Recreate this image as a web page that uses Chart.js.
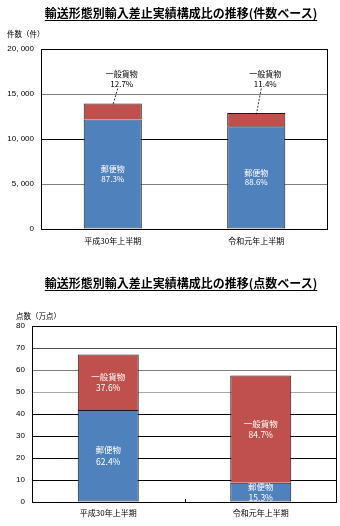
<!DOCTYPE html>
<html lang="ja">
<head>
<meta charset="utf-8">
<script src="https://cdn.jsdelivr.net/npm/chart.js@4/dist/chart.umd.min.js"></script>
<style>
  html, body { margin: 0; padding: 0; background: #fff; width: 340px; height: 526px; overflow: hidden; }
  body { position: relative; }
  canvas { position: absolute; left: 0; }
  .ttl {
    position: absolute; left: 0; width: 362px; text-align: center;
    font: bold 12px "Noto Sans CJK JP", sans-serif; line-height: 14px; color: #000;
    text-decoration: underline; text-underline-offset: 2px; white-space: nowrap; z-index: 2;
  }
</style>
</head>
<body>
<canvas id="cases" width="340" height="260" style="top:0"></canvas>
<canvas id="items" width="340" height="266" style="top:260px"></canvas>
<div class="ttl" style="top:6px">輸送形態別輸入差止実績構成比の推移(件数ベース)</div>
<div class="ttl" style="top:276px">輸送形態別輸入差止実績構成比の推移(点数ベース)</div>
<script>
// Periods and series
const periods = ['平成30年上半期', '令和元年上半期'];
const seriesNames = ['郵便物', '一般貨物'];

// Import seizures by number of cases (件)
const casesPostal = [12180, 11430];
const casesCargo = [1770, 1470];
const caseTicks = [0, 5000, 10000, 15000, 20000];

// Import seizures by number of items (万点)
const itemsPostal = [41.8, 8.8];
const itemsCargo = [25.2, 48.7];
const itemTicks = [0, 10, 20, 30, 40, 50, 60, 70, 80];

const BLUE = '#4F81BD';
const RED = '#C0504D';
const CJK = '"Noto Sans CJK JP", sans-serif';
const NUM = '"Liberation Sans", Arial, sans-serif';

// Horizontal rule colours per tick value
const caseGridColor = { 5000: '#808080', 15000: '#808080' };
const itemGridColor = { 50: '#a8a8a8', 60: '#808080', 70: '#505050' };

const fmtThousands = v => v.toLocaleString('en-US').replace(/,/g, ', ');

// Frame around the plot area plus an optional category separator tick
const frame = {
  id: 'frame',
  afterDatasetsDraw(chart, args, opts) {
    const { ctx, chartArea: a } = chart;
    ctx.save();
    ctx.strokeStyle = '#000';
    ctx.lineWidth = 1;
    ctx.strokeRect(Math.round(a.left) + 0.5, Math.round(a.top) + 0.5,
                   Math.round(a.right - a.left) - 1, Math.round(a.bottom - a.top));
    if (opts.separator) {
      const xs = chart.scales.x;
      const sx = Math.round((xs.getPixelForValue(0) + xs.getPixelForValue(1)) / 2) + 0.5;
      ctx.beginPath();
      ctx.moveTo(sx, a.bottom);
      ctx.lineTo(sx, a.bottom - 3);
      ctx.stroke();
    }
    ctx.restore();
  }
};

// Axis caption above the value axis
const axisCaption = {
  id: 'axisCaption',
  afterDraw(chart, args, opts) {
    const ctx = chart.ctx;
    ctx.save();
    ctx.font = opts.font;
    ctx.fillStyle = '#000';
    ctx.textAlign = 'left';
    ctx.textBaseline = 'middle';
    ctx.fillText(opts.text, opts.x, opts.y);
    ctx.restore();
  }
};

// Series name and share of total on each bar segment
const segmentLabels = {
  id: 'segmentLabels',
  afterDatasetsDraw(chart, args, opts) {
    const ctx = chart.ctx;
    const ds = chart.data.datasets;
    const totals = chart.data.labels.map((_, i) => ds.reduce((s, d) => s + d.data[i], 0));
    ds.forEach((set, di) => {
      const meta = chart.getDatasetMeta(di);
      meta.data.forEach((bar, i) => {
        const share = (set.data[i] / totals[i] * 100).toFixed(1) + '%';
        ctx.save();
        ctx.font = opts.font;
        ctx.textAlign = 'center';
        ctx.textBaseline = 'middle';
        if (opts.callout && opts.callout[di]) {
          const tx = bar.x + opts.calloutDx;
          const ty = chart.chartArea.top + opts.calloutTop;
          ctx.fillStyle = '#000';
          ctx.fillText(set.label, tx, ty);
          ctx.fillText(share, tx, ty + opts.gap);
          ctx.strokeStyle = '#000';
          ctx.lineWidth = 0.8;
          ctx.setLineDash([2, 1.5]);
          ctx.beginPath();
          ctx.moveTo(bar.x + 5, ty + opts.gap + 5);
          ctx.lineTo(bar.x, bar.y + 2);
          ctx.stroke();
        } else {
          const mid = (bar.y + bar.base) / 2;
          ctx.fillStyle = '#fff';
          ctx.fillText(set.label, bar.x, mid - opts.gap / 2);
          ctx.fillText(share, bar.x, mid + opts.gap / 2);
        }
        ctx.restore();
      });
    });
  }
};

function makeChart(id, cfg) {
  const common = {
    borderColor: '#1a1a1a', borderSkipped: false,
    barPercentage: cfg.barPct, categoryPercentage: 1
  };
  return new Chart(document.getElementById(id), {
    type: 'bar',
    data: {
      labels: periods,
      datasets: [
        Object.assign({ label: seriesNames[0], data: cfg.postal, backgroundColor: BLUE,
                        borderWidth: 1 }, common),
        // the upper segment shares its lower edge with the segment below
        Object.assign({ label: seriesNames[1], data: cfg.cargo, backgroundColor: RED,
                        borderWidth: { top: 1, left: 1, right: 1, bottom: 0 } }, common)
      ]
    },
    options: {
      responsive: false,
      animation: false,
      devicePixelRatio: 1,
      layout: { padding: { top: cfg.top, right: cfg.right, left: 0, bottom: 0 } },
      plugins: {
        legend: { display: false },
        title: { display: false },
        tooltip: { enabled: false },
        frame: { separator: cfg.separator },
        axisCaption: cfg.caption,
        segmentLabels: cfg.labels
      },
      scales: {
        x: {
          stacked: true,
          offset: true,
          grid: { display: false, drawTicks: false },
          border: { display: false },
          ticks: { color: '#000', font: { family: CJK, size: 8 }, padding: cfg.xPad, maxRotation: 0 },
          afterFit: s => { s.height = cfg.xHeight; }
        },
        y: {
          stacked: true,
          min: cfg.ticks[0],
          max: cfg.ticks[cfg.ticks.length - 1],
          afterBuildTicks: s => { s.ticks = cfg.ticks.map(v => ({ value: v })); },
          grid: {
            drawTicks: false,
            lineWidth: 1,
            color: c => cfg.gridColor[c.tick && c.tick.value] || '#000'
          },
          border: { display: false },
          ticks: { color: '#000', font: { family: NUM, size: 8 }, padding: 7, callback: cfg.fmt },
          afterFit: s => { s.width = cfg.yWidth; }
        }
      }
    },
    plugins: [frame, axisCaption, segmentLabels]
  });
}

makeChart('cases', {
  postal: casesPostal, cargo: casesCargo, ticks: caseTicks,
  gridColor: caseGridColor, fmt: v => fmtThousands(v),
  barPct: 0.405, top: 49, right: 12, yWidth: 41, xHeight: 31, xPad: 7,
  separator: false,
  caption: { text: '件数（件）', x: 7, y: 34, font: '7.5px ' + CJK },
  labels: { font: '8px ' + CJK, gap: 9.5, callout: [false, true], calloutDx: 9, calloutTop: 25 }
});

makeChart('items', {
  postal: itemsPostal, cargo: itemsCargo, ticks: itemTicks,
  gridColor: itemGridColor, fmt: v => String(v),
  barPct: 0.4, top: 66, right: 3, yWidth: 32, xHeight: 24, xPad: 6,
  separator: true,
  caption: { text: '点数（万点）', x: 16, y: 56, font: '7.5px ' + CJK },
  labels: { font: '8.5px ' + CJK, gap: 11.5, callout: null }
});
</script>
</body>
</html>
